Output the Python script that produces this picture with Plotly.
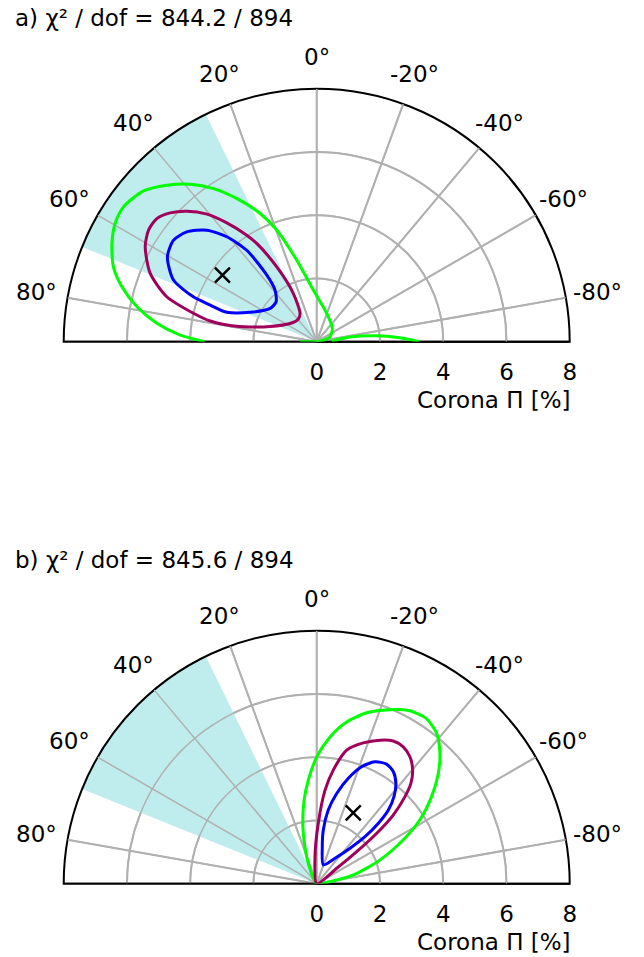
import math
import plotly.graph_objects as go

W, H = 644, 957
FONT = "DejaVu Sans"
FS = 23

# ---------------- data ----------------
tick_vals = [-80, -60, -40, -20, 0, 20, 40, 60, 80]
tick_text = ["-80°", "-60°", "-40°", "-20°", "0°", "20°", "40°", "60°", "80°"]
r_ticks = [0, 2, 4, 6, 8]
r_max = 8

titles = ["a) χ² / dof = 844.2 / 894", "b) χ² / dof = 845.6 / 894"]
r_title = "Corona Π [%]"

# shaded angle band (deg)
band_center = 47.0
band_width = 42.0

# panel a contours (r in %, theta in deg)
a_green_r = [3.53, 4.32, 5.09, 5.79, 6.40, 6.85, 7.18, 7.39, 7.45, 7.26, 6.85, 6.39,
             5.84, 5.19, 4.43, 3.75, 2.66, 1.64, 0.95, 0.65, 0.45, 0.16, 0.0, 0.53]
a_green_t = [90, 87.2, 83.4, 79.0, 74.25, 69.8, 64.4, 59.6, 55.1, 48.95, 43.75, 38.8,
             34.0, 29.2, 23.8, 19.7, 13.8, 3.75, -19.4, -49.4, -69.4, -78.6, 90, 90]
a_green2_r = [0.47, 1.06, 1.90, 2.63, 3.26]
a_green2_t = [-88, -82.0, -84.3, -87.3, -90]
a_purple_r = [6.20, 6.38, 6.38, 6.17, 5.82, 5.32, 4.71, 4.03, 3.64, 2.68, 1.70, 1.04,
              0.92, 1.02, 1.55, 2.16, 2.79, 3.43, 4.00, 4.95, 5.69, 6.20]
a_purple_t = [61.0, 56.45, 52.4, 48.7, 44.85, 40.7, 37.1, 33.3, 31.4, 28.1, 25.8, 30.4,
              39.4, 55.7, 72.0, 77.6, 79.4, 79.0, 77.0, 73.3, 67.7, 61.0]
a_blue_r = [5.43, 5.55, 5.38, 4.95, 4.37, 3.64, 2.63, 2.10, 1.80, 1.81, 2.30, 2.99,
            3.56, 4.15, 4.93, 5.43]
a_blue_t = [60.4, 54.65, 49.8, 44.55, 40.6, 37.4, 36.85, 38.9, 45.5, 54.4, 66.2, 71.9,
            71.0, 70.0, 66.7, 60.4]
a_best = (3.65, 54.75)

# panel b contours
b_green_r = [0, 0.70, 1.44, 1.96, 2.67, 3.29, 4.01, 4.66, 5.20, 5.63, 5.97, 6.21, 6.27,
             6.08, 5.67, 5.19, 4.55, 3.83, 3.06, 2.13, 1.19, 0.42, 0]
b_green_t = [22, 22.4, 16.2, 13.0, 8.6, 4.6, 0, -5.2, -10.5, -16.3, -22.8, -28.3, -33.6,
             -38.6, -43.4, -47.8, -52.9, -58.3, -63.2, -69.5, -76.6, -81.5, -81.5]
b_purple_r = [0, 0.85, 1.91, 2.97, 3.63, 4.33, 4.69, 4.96, 5.12, 5.12, 4.98, 4.70, 4.35,
              3.92, 3.25, 2.47, 1.62, 0.80, 0]
b_purple_t = [4, 3.6, -1.5, -5.1, -8.3, -12.65, -18.3, -23.8, -28.2, -32.3, -36.3, -40.2,
              -43.2, -45.4, -48.1, -50.0, -51.3, -52.4, -52.4]
b_blue_r = [0.63, 1.18, 1.71, 2.36, 2.92, 3.48, 3.96, 4.27, 4.38, 4.29, 4.04, 3.68,
            3.25, 2.73, 2.13, 1.54, 0.99, 0.63]
b_blue_t = [-19.4, -8.6, -7.0, -8.9, -12.5, -16.7, -21.0, -25.5, -30.3, -34.4, -38.3,
            -41.6, -44.2, -45.6, -45.8, -43.3, -35.8, -19.4]
b_best = (2.52, -27.3)

GREEN = "#00ff00"
PURPLE = "#a0005a"
BLUE = "#0000ff"
CYAN = "#bfecec"
GRID = "#b0b0b0"

# ---------------- layout geometry (px) ----------------
cx = 316.7
R = 253.0
label_rad = 285.0
centers_y = [341.7, 883.7]

fig = go.Figure()


def poly_layout(cy, visible):
    dom_x = [(cx - R) / W, (cx + R) / W]
    dom_y = [(H - cy) / H, (H - cy + R) / H]
    ang = dict(rotation=90, direction="counterclockwise",
               tickmode="array", tickvals=tick_vals, ticktext=tick_text,
               showgrid=visible, gridcolor=GRID, gridwidth=1.5,
               showline=visible, linecolor="black", linewidth=2,
               ticks="", showticklabels=False)
    rad = dict(range=[0, r_max], tickmode="array", tickvals=r_ticks,
               showgrid=visible, gridcolor=GRID, gridwidth=1.5,
               showline=visible, linecolor="black", linewidth=2,
               angle=0, side="clockwise",
               ticks="outside" if visible else "", ticklen=10,
               tickcolor="rgba(0,0,0,0)",
               showticklabels=visible,
               tickfont=dict(family=FONT, size=FS, color="black"))
    return dict(domain=dict(x=dom_x, y=dom_y), sector=[0, 180],
                bgcolor="white" if visible else "rgba(0,0,0,0)",
                angularaxis=ang, radialaxis=rad)


panels = [
    dict(green=[(a_green_r, a_green_t), (a_green2_r, a_green2_t)],
         purple=(a_purple_r, a_purple_t), blue=(a_blue_r, a_blue_t), best=a_best),
    dict(green=[(b_green_r, b_green_t)],
         purple=(b_purple_r, b_purple_t), blue=(b_blue_r, b_blue_t), best=b_best),
]

arc_theta = list(range(-90, 91))

layout_polars = {}
for i, (p, cy) in enumerate(zip(panels, centers_y)):
    base = "polar" if i == 0 else f"polar{2 * i + 1}"
    top = f"polar{2 * i + 2}"
    layout_polars[base] = poly_layout(cy, True)
    layout_polars[top] = poly_layout(cy, False)

    fig.add_trace(go.Barpolar(r=[r_max], theta=[band_center], width=[band_width],
                              base=0, marker=dict(color=CYAN, line=dict(width=0)),
                              subplot=base, showlegend=False, hoverinfo="skip"))
    # grid redrawn above the shaded band (below the contours)
    for tv in tick_vals:
        fig.add_trace(go.Scatterpolar(r=[0, r_max], theta=[tv, tv], mode="lines",
                                      line=dict(color=GRID, width=1.5),
                                      subplot=top, showlegend=False, hoverinfo="skip"))
    for rv in r_ticks[1:-1]:
        fig.add_trace(go.Scatterpolar(r=[rv] * len(arc_theta), theta=arc_theta, mode="lines",
                                      line=dict(color=GRID, width=1.5),
                                      subplot=top, showlegend=False, hoverinfo="skip"))
    # left edge of the half disc
    fig.add_trace(go.Scatterpolar(r=[0, r_max], theta=[90, 90], mode="lines",
                                  line=dict(color="black", width=2),
                                  subplot=top, showlegend=False, hoverinfo="skip"))
    for (rr, tt) in p["green"]:
        fig.add_trace(go.Scatterpolar(r=rr, theta=tt, mode="lines",
                                      line=dict(color=GREEN, width=3, shape="spline", smoothing=0.7),
                                      subplot=top, showlegend=False))
    for key, col in (("purple", PURPLE), ("blue", BLUE)):
        rr, tt = p[key]
        fig.add_trace(go.Scatterpolar(r=rr, theta=tt, mode="lines",
                                      line=dict(color=col, width=3, shape="spline", smoothing=0.7),
                                      subplot=top, showlegend=False))
    fig.add_trace(go.Scatterpolar(r=[p["best"][0]], theta=[p["best"][1]], mode="markers",
                                  marker=dict(symbol="x-thin", size=15,
                                              line=dict(color="black", width=2.5)),
                                  subplot=top, showlegend=False))

annotations = []
for i, cy in enumerate(centers_y):
    off = i * 542
    annotations.append(dict(text=titles[i], x=13 / W, y=(H - (18 + off)) / H,
                            xref="paper", yref="paper", xanchor="left", yanchor="middle",
                            showarrow=False, font=dict(family=FONT, size=FS, color="black")))
    annotations.append(dict(text=r_title, x=573 / W, y=(H - (cy + 58)) / H,
                            xref="paper", yref="paper", xanchor="right", yanchor="middle",
                            showarrow=False, font=dict(family=FONT, size=FS, color="black")))
    for tv, tt in zip(tick_vals, tick_text):
        a = math.radians(tv)
        px = cx - label_rad * math.sin(a)
        py = cy - label_rad * math.cos(a)
        annotations.append(dict(text=tt, x=px / W, y=(H - py) / H,
                                xref="paper", yref="paper", xanchor="center", yanchor="middle",
                                showarrow=False, font=dict(family=FONT, size=FS, color="black")))

fig.update_layout(width=W, height=H, margin=dict(l=0, r=0, t=0, b=0),
                  paper_bgcolor="white", plot_bgcolor="white",
                  annotations=annotations, showlegend=False, **layout_polars)

fig.write_html("out.html")
